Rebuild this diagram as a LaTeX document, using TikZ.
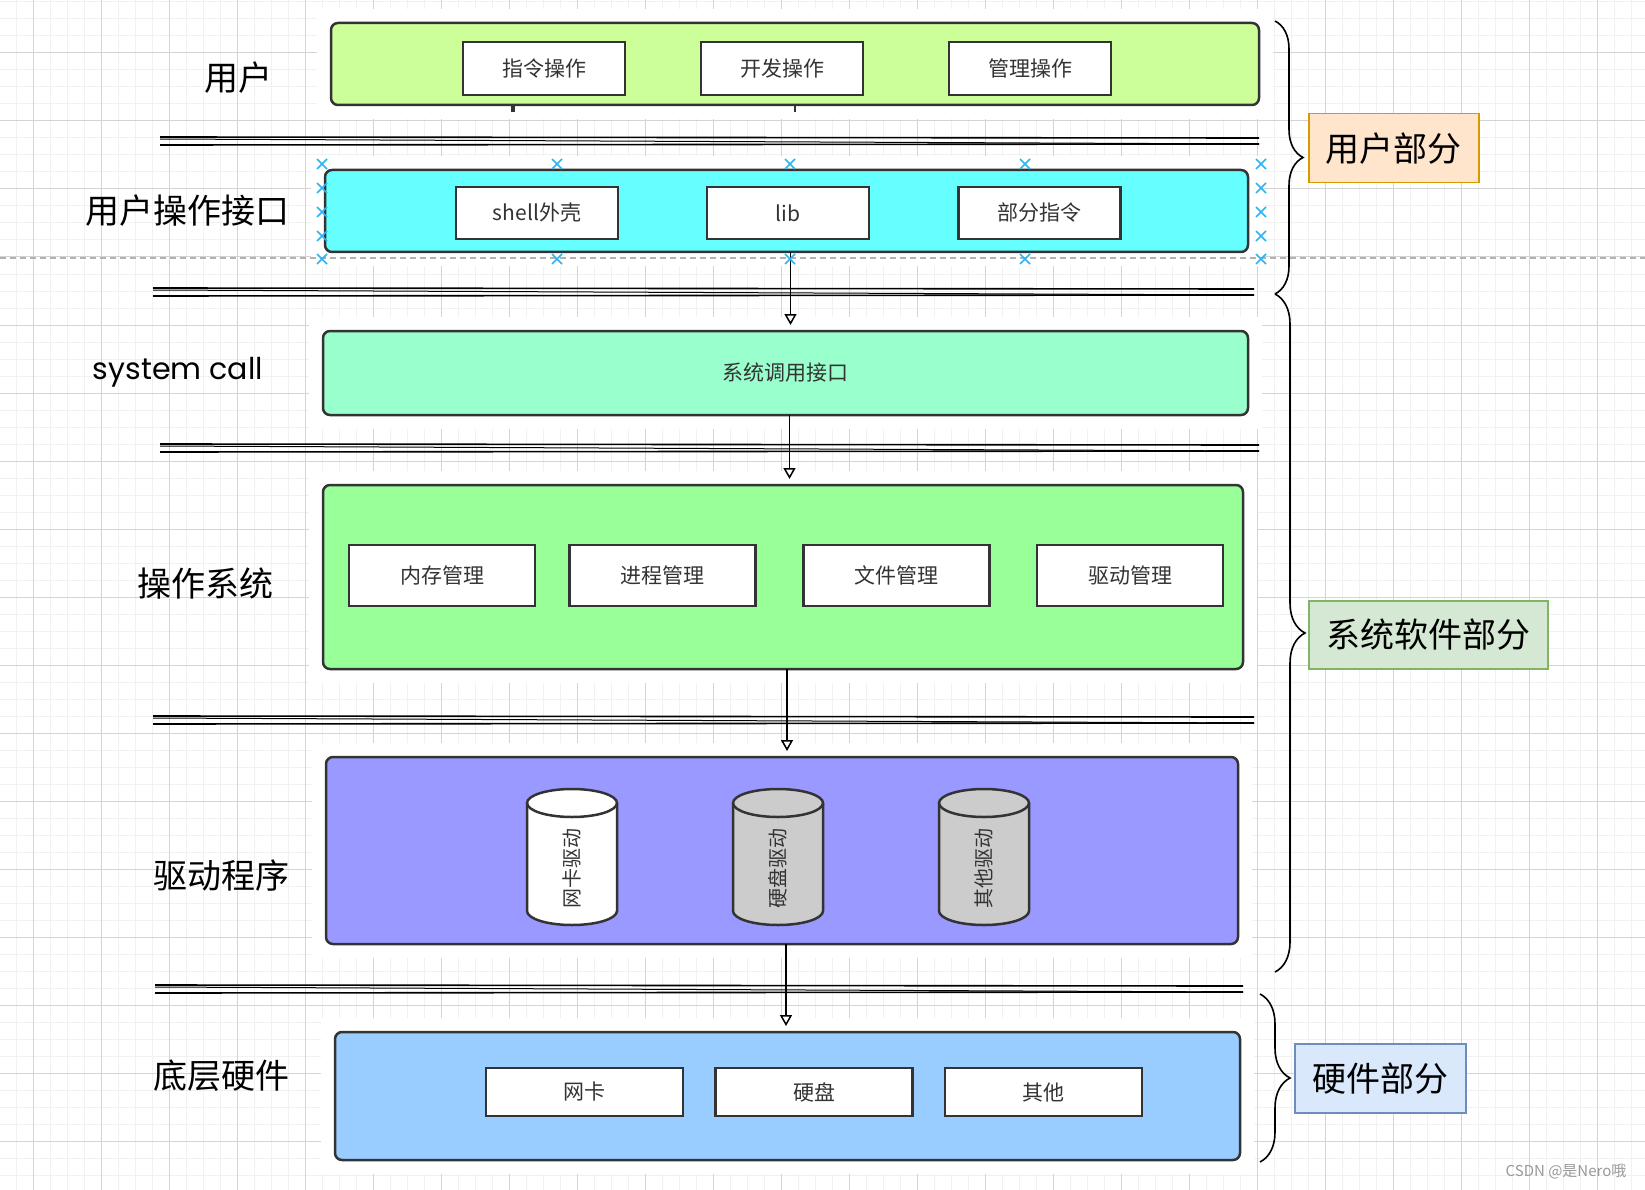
\documentclass[tikz,border=0pt]{standalone}
\usepackage{fontspec}
\usepackage{graphicx}
\setmainfont{Noto Sans CJK SC}
\newfontfamily\handfont{Poppins}
\usetikzlibrary{arrows.meta,decorations.pathreplacing,calc}
\definecolor{gridminor}{HTML}{F1F1F1}
\definecolor{gridmajor}{HTML}{D4D4D4}
\definecolor{boxborder}{HTML}{333333}
\definecolor{textgray}{HTML}{333333}
\definecolor{cUser}{HTML}{CCFF99}
\definecolor{cUI}{HTML}{66FFFF}
\definecolor{cSys}{HTML}{99FFCC}
\definecolor{cOS}{HTML}{99FF99}
\definecolor{cDrv}{HTML}{9999FF}
\definecolor{cHw}{HTML}{99CCFF}
\definecolor{selblue}{HTML}{29B6F2}
\newcommand\sepline[3]{%
  \draw[sepl] (#1,#3) -- (#2,#3+1);
  \draw[sepl] (#1,#3+8) -- (#2,#3+7);
  \draw[sepl,line width=1pt] (#1,#3+2) -- (#2,#3+7);}
\newcommand\xmk[2]{\draw[xmark] (#1-5,#2-5) -- (#1+5,#2+5) (#1-5,#2+5) -- (#1+5,#2-5);}
\newcommand\cyl[4]{% name, center x, fill, text
  \fill[#3] (#2-45,803) -- (#2-45,911) arc[start angle=180,end angle=0,x radius=45,y radius=14] -- (#2+45,803) arc[start angle=0,end angle=-180,x radius=45,y radius=14] -- cycle;
  \draw[line width=2.5pt,draw=boxborder] (#2-45,803) -- (#2-45,911) arc[start angle=180,end angle=0,x radius=45,y radius=14] -- (#2+45,803);
  \draw[line width=2.5pt,draw=boxborder] (#2,803) ellipse[x radius=45,y radius=14];
  \node[rotate=90,text=textgray,font=\fontsize{20}{20}\selectfont] (#1) at (#2,868) {#4};}
\begin{document}
\begin{tikzpicture}[x=1pt,y=-1pt,
  layer/.style={draw=boxborder,line width=2.5pt,rounded corners=7pt,anchor=north west,inner sep=0pt,outer sep=0pt},
  inbox/.style={draw=boxborder,fill=white,line width=2.5pt,inner sep=0pt,text=textgray,font=\fontsize{21}{21}\selectfont},
  sidelabel/.style={font=\fontsize{34}{34}\selectfont,text=black},
  tag/.style={line width=1.5pt,anchor=north west,inner sep=0pt,font=\fontsize{34}{34}\selectfont},
  sepl/.style={line width=1.6pt,draw=black},
  xmark/.style={draw=selblue,line width=1.6pt},
  flow/.style={line width=1.8pt,draw=black,-{Triangle[open,length=11pt,width=12pt,line width=1.5pt]},shorten >=6pt},
  bracestyle/.style={line width=1.6pt,draw=black,decorate}]
\useasboundingbox (0,0) rectangle (1645,1190);
\fill[white] (0,0) rectangle (1645,1190);
% grid
\foreach \x in {16,33,...,1645} \draw[gridminor,line width=1pt] (\x,0) -- (\x,1190);
\foreach \y in {2,19,...,1190} \draw[gridminor,line width=1pt] (0,\y) -- (1645,\y);
\foreach \x in {33,101,...,1645} \draw[gridmajor,line width=1pt] (\x,0) -- (\x,1190);
\foreach \y in {53,121,...,1190} \draw[gridmajor,line width=1pt] (0,\y) -- (1645,\y);
% white backs behind layers
\fill[white] (317,9) rectangle (1273,119);
\fill[white] (311,156) rectangle (1262,266);
\fill[white] (309,317) rectangle (1262,429);
\fill[white] (309,471) rectangle (1257,683);
\fill[white] (312,743) rectangle (1252,958);
\fill[white] (321,1018) rectangle (1254,1174);
% dashed guide
\draw[gray!60,line width=1.2pt,dash pattern=on 6pt off 4pt] (0,258) -- (1645,258);
% separators
\sepline{160}{1259}{137}
\sepline{153}{1254}{288}
\sepline{160}{1259}{444}
\sepline{153}{1254}{716}
\sepline{155}{1243}{985}
% layers
\node[layer,fill=cUser,minimum width=928pt,minimum height=82pt] (user) at (331,23) {};
\node[layer,fill=cUI,minimum width=923pt,minimum height=82pt] (ui) at (325,170) {};
\node[layer,fill=cSys,minimum width=925pt,minimum height=84pt] (sys) at (323,331) {};
\node[text=textgray,font=\fontsize{21}{21}\selectfont] (syst) at (sys.center) {系统调用接口};
\node[layer,fill=cOS,minimum width=920pt,minimum height=184pt] (os) at (323,485) {};
\node[layer,fill=cDrv,minimum width=912pt,minimum height=187pt] (drv) at (326,757) {};
\node[layer,fill=cHw,minimum width=905pt,minimum height=128pt] (hw) at (335,1032) {};
% inner boxes
\node[inbox,minimum width=162pt,minimum height=53pt] (u1) at (544,68.5) {指令操作};
\node[inbox,minimum width=162pt,minimum height=53pt] (u2) at (782,68.5) {开发操作};
\node[inbox,minimum width=162pt,minimum height=53pt] (u3) at (1030,68.5) {管理操作};
\node[inbox,minimum width=162pt,minimum height=52pt] (i1) at (537,213) {shell外壳};
\node[inbox,minimum width=162pt,minimum height=52pt] (i2) at (788,213) {lib};
\node[inbox,minimum width=162pt,minimum height=52pt] (i3) at (1039.5,213) {部分指令};
\node[inbox,minimum width=186pt,minimum height=61pt] (o1) at (442,575.5) {内存管理};
\node[inbox,minimum width=186pt,minimum height=61pt] (o2) at (662.5,575.5) {进程管理};
\node[inbox,minimum width=186pt,minimum height=61pt] (o3) at (896.5,575.5) {文件管理};
\node[inbox,minimum width=186pt,minimum height=61pt] (o4) at (1130,575.5) {驱动管理};
\node[inbox,minimum width=197pt,minimum height=48pt] (h1) at (584.5,1092) {网卡};
\node[inbox,minimum width=197pt,minimum height=48pt] (h2) at (814,1092) {硬盘};
\node[inbox,minimum width=197pt,minimum height=48pt] (h3) at (1043.5,1092) {其他};
% cylinders
\cyl{d1}{572}{white}{网卡驱动}
\cyl{d2}{778}{black!20}{硬盘驱动}
\cyl{d3}{984}{black!20}{其他驱动}
% small stubs under user box
\coordinate (st1) at (513,112);
\coordinate (st2) at (795,112);
\draw[line width=4pt,draw=boxborder] (user.south -| st1) -- (st1);
\draw[line width=1.5pt,draw=boxborder] (user.south -| st2) -- (st2);
% arrows
\draw[flow] ($(ui.south)+(4,0)$) -- ($(ui.south |- sys.north)+(4,0)$);
\draw[flow] ($(sys.south)+(4,0)$) -- ($(sys.south |- os.north)+(4,0)$);
\draw[flow] ($(os.south)+(4,0)$) -- ($(os.south |- drv.north)+(4,0)$);
\draw[flow] ($(drv.south)+(4,0)$) -- ($(drv.south |- hw.north)+(4,0)$);
% selection marks
\foreach \x in {322,557,790,1025,1261} {\xmk{\x}{164}\xmk{\x}{259}}
\foreach \y in {188,212,236} {\xmk{322}{\y}\xmk{1261}{\y}}
% side labels
\node[sidelabel] (l1) at (238,78) {用户};
\node[sidelabel] (l2) at (187,211) {用户操作接口};
\node[text=black] (l3) at (178,372) {\resizebox{170pt}{!}{\handfont system call}};
\node[sidelabel] (l4) at (205,584) {操作系统};
\node[sidelabel] (l5) at (221,876) {驱动程序};
\node[sidelabel] (l6) at (221,1076) {底层硬件};
% tags
\node[tag,fill=orange!20,draw={rgb,255:red,215;green,155;blue,0},minimum width=170pt,minimum height=69pt] (t1) at (1308,113) {用户部分};
\node[tag,fill={rgb,255:red,213;green,232;blue,212},draw={rgb,255:red,130;green,179;blue,102},minimum width=239pt,minimum height=68pt] (t2) at (1308,600) {系统软件部分};
\node[tag,fill={rgb,255:red,218;green,232;blue,252},draw={rgb,255:red,108;green,142;blue,191},minimum width=171pt,minimum height=69pt] (t3) at (1294,1043) {硬件部分};
% braces
\coordinate (b1t) at (1275,21);
\coordinate (b1b) at (1275,294);
\coordinate (b2t) at (1275,294);
\coordinate (b2b) at (1275,972);
\coordinate (b3t) at (1260,994);
\coordinate (b3b) at (1260,1162);
\draw[bracestyle,decoration={brace,amplitude=28pt,aspect=0.5}] (b1t) -- (b1b);
\draw[bracestyle,decoration={brace,amplitude=30pt,aspect=0.5}] (b2t) -- (b2b);
\draw[bracestyle,decoration={brace,amplitude=30pt,aspect=0.5}] (b3t) -- (b3b);
% watermark
\node[text=black!40,font=\fontsize{15}{15}\selectfont] (wm) at (1566,1172) {CSDN @是Nero哦};
\end{tikzpicture}
\end{document}
